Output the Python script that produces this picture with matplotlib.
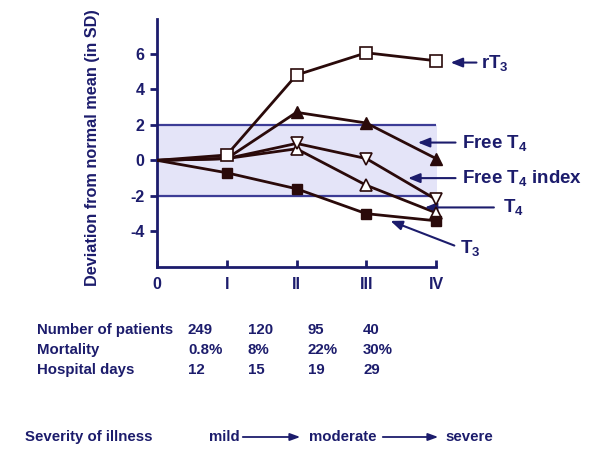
import matplotlib
matplotlib.use('Agg')
import matplotlib.pyplot as plt

plt.rcParams['font.family'] = ['Liberation Sans', 'DejaVu Sans']
plt.rcParams['font.weight'] = 'bold'
plt.rcParams['mathtext.fontset'] = 'custom'
plt.rcParams['mathtext.rm'] = 'Liberation Sans:bold'
plt.rcParams['mathtext.default'] = 'rm'

navy = '#1c1c6c'
brown = '#2a0a0a'

# severity stages
stages = [0, 1, 2, 3, 4]
stage_labels = ['0', 'I', 'II', 'III', 'IV']

# deviation from normal mean (SD)
rt3 = [0, 0.3, 4.8, 6.05, 5.6]
free_t4 = [0, 0.1, 2.7, 2.1, 0.1]
ft4_index = [0, 0.1, 0.95, 0.1, -2.2]
t4 = [0, 0.1, 0.65, -1.4, -2.95]
t3 = [0, -0.7, -1.6, -3.0, -3.4]

row_names = ['Number of patients', 'Mortality', 'Hospital days']
patients = ['249', '120', '95', '40']
mortality = ['0.8%', '8%', '22%', '30%']
hosp_days = ['12', '15', '19', '29']

fig = plt.figure(figsize=(5.94, 4.5), dpi=100)
ax = fig.add_axes([157/594, 1-267/450, 279/594, 248/450])

ax.fill_between([0, 4], -2, 2, color='#e4e4f8', zorder=0)
ax.hlines([-2, 2], 0, 4, color='#3c3c96', lw=1.6, zorder=1)

lw = 2.0
ax.plot(stages, t4, color=brown, lw=lw, zorder=3)
ax.plot(stages[2:], t4[2:], ls='none', marker='^', ms=8, mfc='white', mec=brown, mew=1.2, zorder=4, clip_on=False)
ax.plot(stages, ft4_index, color=brown, lw=lw, zorder=3)
ax.plot(stages[2:], ft4_index[2:], ls='none', marker='v', ms=8, mfc='white', mec=brown, mew=1.2, zorder=4, clip_on=False)
ax.plot(stages, free_t4, color=brown, lw=lw, zorder=3)
ax.plot(stages[2:], free_t4[2:], ls='none', marker='^', ms=8, mfc=brown, mec=brown, zorder=4, clip_on=False)
ax.plot(stages, rt3, color=brown, lw=lw, zorder=3)
ax.plot(stages[1:], rt3[1:], ls='none', marker='s', ms=9, mfc='white', mec=brown, mew=1.2, zorder=5, clip_on=False)
ax.plot(stages, t3, color=brown, lw=lw, zorder=5)
ax.plot(stages[1:], t3[1:], ls='none', marker='s', ms=7, mfc=brown, mec=brown, zorder=6, clip_on=False)

ax.set_xlim(0, 4)
ax.set_ylim(-6, 7.95)
ax.set_xticks(stages)
ax.set_xticklabels(stage_labels)
ax.set_yticks([-4, -2, 0, 2, 4, 6])
ax.set_yticklabels(['-4', '-2', '0', '2', '4', '6'])
for s in ['top', 'right']:
    ax.spines[s].set_visible(False)
for s in ['left', 'bottom']:
    ax.spines[s].set_color(navy)
    ax.spines[s].set_linewidth(2)
ax.tick_params(axis='x', direction='in', length=5, width=2, color=navy,
               labelcolor=navy, labelsize=11.5, pad=7)
ax.tick_params(axis='y', direction='out', length=5, width=2, color=navy,
               labelcolor=navy, labelsize=11.5, pad=4)
for lab in ax.get_xticklabels() + ax.get_yticklabels():
    lab.set_fontweight('bold')

fig.text(93/594, 1-148/450, 'Deviation from normal mean (in SD)', rotation=90,
         ha='center', va='center', color=navy, fontsize=11.7, fontweight='bold')

arrow = dict(arrowstyle='-|>,head_length=0.7,head_width=0.28', color=navy, lw=1.5)
labels = [
    ('rT$_3$', (4.62, 5.5), (4.17, 5.5), (4.65, 5.5)),
    ('Free T$_4$', (4.32, 1.0), (3.70, 1.0), (4.37, 1.0)),
    ('Free T$_4$ index', (4.32, -1.0), (3.56, -1.0), (4.37, -1.0)),
    ('T$_4$', (4.87, -2.65), (3.80, -2.65), (4.96, -2.65)),
    ('T$_3$', (4.30, -4.85), (3.31, -3.35), (4.34, -4.95)),
]
for txt, tail, head, tpos in labels:
    ax.annotate('', xy=head, xytext=tail, arrowprops=arrow, annotation_clip=False)
    ax.text(tpos[0], tpos[1], txt, color=navy, fontsize=13.5, fontweight='bold',
            ha='left', va='center', clip_on=False)

col_x = [188, 248, 308, 363]
row_y = [330, 350, 370]
for name, vals, py in zip(row_names, [patients, mortality, hosp_days], row_y):
    fig.text(37/594, 1-py/450, name, color=navy, fontsize=10.8, fontweight='bold', va='center')
    for v, px in zip(vals, col_x):
        fig.text(px/594, 1-py/450, v, color=navy, fontsize=10.8, fontweight='bold', va='center')

sy = 1-437/450
fig.text(25/594, sy, 'Severity of illness', color=navy, fontsize=10.8, fontweight='bold', va='center')
fig.text(209/594, sy, 'mild', color=navy, fontsize=10.8, fontweight='bold', va='center')
fig.text(309/594, sy, 'moderate', color=navy, fontsize=10.8, fontweight='bold', va='center')
fig.text(445/594, sy, 'severe', color=navy, fontsize=10.8, fontweight='bold', va='center')
sarrow = dict(arrowstyle='-|>,head_length=0.6,head_width=0.22', color=navy, lw=1.3)
fig.add_artist(matplotlib.patches.FancyArrowPatch((240/594, sy), (303/594, sy),
               transform=fig.transFigure, **sarrow, mutation_scale=10))
fig.add_artist(matplotlib.patches.FancyArrowPatch((380/594, sy), (441/594, sy),
               transform=fig.transFigure, **sarrow, mutation_scale=10))

fig.savefig('out.png', dpi=100)
